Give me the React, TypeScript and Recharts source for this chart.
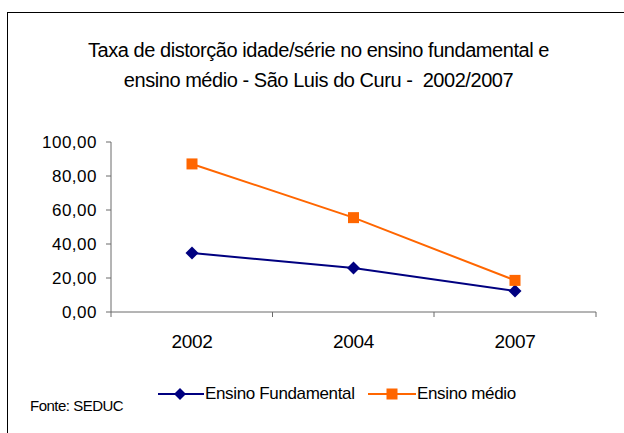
import React from 'react';
import { LineChart, Line, XAxis, YAxis } from 'recharts';

const categories = ['2002', '2004', '2007'];
const fundamental = [34.7, 25.9, 12.4];
const medio = [87.1, 55.5, 18.6];
const yTicks = [0, 20, 40, 60, 80, 100];
const seriesNames = ['Ensino Fundamental', 'Ensino médio'];
const titleLines = [
  'Taxa de distorção idade/série no ensino fundamental e',
  'ensino médio - São Luis do Curu -  2002/2007',
];
const sourceNote = 'Fonte: SEDUC';

const data = categories.map((c, i) => ({ year: c, fundamental: fundamental[i], medio: medio[i] }));

const BLUE = '#000080';
const ORANGE = '#FF6600';
const AXIS = '#6b6b6b';
const FONT = '"Liberation Sans", Arial, sans-serif';
const HALF_BAND = 81;

const Diamond = (props: any) => {
  const { cx, cy } = props;
  if (cx == null || cy == null) return null;
  return <polygon points={`${cx},${cy - 6.5} ${cx + 6.5},${cy} ${cx},${cy + 6.5} ${cx - 6.5},${cy}`} fill={BLUE} />;
};

const Square = (props: any) => {
  const { cx, cy } = props;
  if (cx == null || cy == null) return null;
  return <rect x={cx - 5.5} y={cy - 5.5} width={11} height={11} fill={ORANGE} />;
};

const XTick = (props: any) => {
  const { x, y, payload, index, visibleTicksCount } = props;
  const last = index === (visibleTicksCount ?? categories.length) - 1;
  return (
    <g>
      <line x1={x - HALF_BAND} x2={x - HALF_BAND} y1={y} y2={y + 5} stroke={AXIS} strokeWidth={1} />
      {last && <line x1={x + HALF_BAND} x2={x + HALF_BAND} y1={y} y2={y + 5} stroke={AXIS} strokeWidth={1} />}
      <text x={x} y={y + 36} textAnchor="middle" fill="#000" fontSize={19} letterSpacing={-0.3} fontFamily={FONT}>
        {payload.value}
      </text>
    </g>
  );
};

const fmt = (v: number) => v.toFixed(2).replace('.', ',');

export default function App() {
  return (
    <div style={{ position: 'absolute', left: 0, top: 0, width: 624, height: 433, background: '#fff', fontFamily: FONT, overflow: 'hidden' }}>
      <div style={{ position: 'absolute', left: 7, top: 12, width: 700, height: 500, border: '1px solid #000', boxSizing: 'border-box' }} />
      <div style={{ position: 'absolute', left: 0, top: 35, width: 637, textAlign: 'center', fontSize: 20, letterSpacing: -0.45, lineHeight: '30px', color: '#000' }}>
        {titleLines.map((t, i) => (
          <div key={i} style={{ whiteSpace: 'pre' }}>{t}</div>
        ))}
      </div>
      <div style={{ position: 'absolute', left: 0, top: 0 }}>
        <LineChart width={624} height={433} data={data} margin={{ top: 142, right: 28, bottom: 91, left: 11 }}>
          <XAxis
            dataKey="year"
            height={30}
            padding={{ left: HALF_BAND, right: HALF_BAND }}
            axisLine={{ stroke: AXIS, strokeWidth: 1 }}
            tickLine={false}
            tickSize={0}
            tickMargin={0}
            tick={<XTick />}
            interval={0}
          />
          <YAxis
            width={100}
            domain={[0, 100]}
            ticks={yTicks}
            interval={0}
            tickFormatter={fmt}
            axisLine={{ stroke: AXIS, strokeWidth: 1 }}
            tickLine={{ stroke: AXIS, strokeWidth: 1 }}
            tickSize={5}
            tickMargin={9}
            tick={{ fill: '#000', fontSize: 17, letterSpacing: 0.5, fontFamily: FONT }}
          />
          <Line dataKey="fundamental" name={seriesNames[0]} stroke={BLUE} strokeWidth={2} dot={<Diamond />} activeDot={false} isAnimationActive={false} />
          <Line dataKey="medio" name={seriesNames[1]} stroke={ORANGE} strokeWidth={2} dot={<Square />} activeDot={false} isAnimationActive={false} />
        </LineChart>
      </div>
      <div style={{ position: 'absolute', left: 158, top: 385, height: 18, display: 'flex', alignItems: 'center', fontSize: 17, letterSpacing: -0.35, color: '#000' }}>
        <svg width={46} height={18}>
          <line x1={0} x2={46} y1={9} y2={9} stroke={BLUE} strokeWidth={2} />
          <polygon points="22,3 28,9 22,15 16,9" fill={BLUE} />
        </svg>
        <span style={{ whiteSpace: 'pre', marginLeft: 1 }}>{seriesNames[0]}</span>
      </div>
      <div style={{ position: 'absolute', left: 368, top: 385, height: 18, display: 'flex', alignItems: 'center', fontSize: 17, letterSpacing: -0.35, color: '#000' }}>
        <svg width={48} height={18}>
          <line x1={0} x2={48} y1={9} y2={9} stroke={ORANGE} strokeWidth={2} />
          <rect x={18.5} y={3.5} width={11} height={11} fill={ORANGE} />
        </svg>
        <span style={{ whiteSpace: 'pre', marginLeft: 1 }}>{seriesNames[1]}</span>
      </div>
      <div style={{ position: 'absolute', left: 30, top: 397, fontSize: 15, letterSpacing: -0.5, color: '#000', whiteSpace: 'pre' }}>
        {sourceNote}
      </div>
    </div>
  );
}
